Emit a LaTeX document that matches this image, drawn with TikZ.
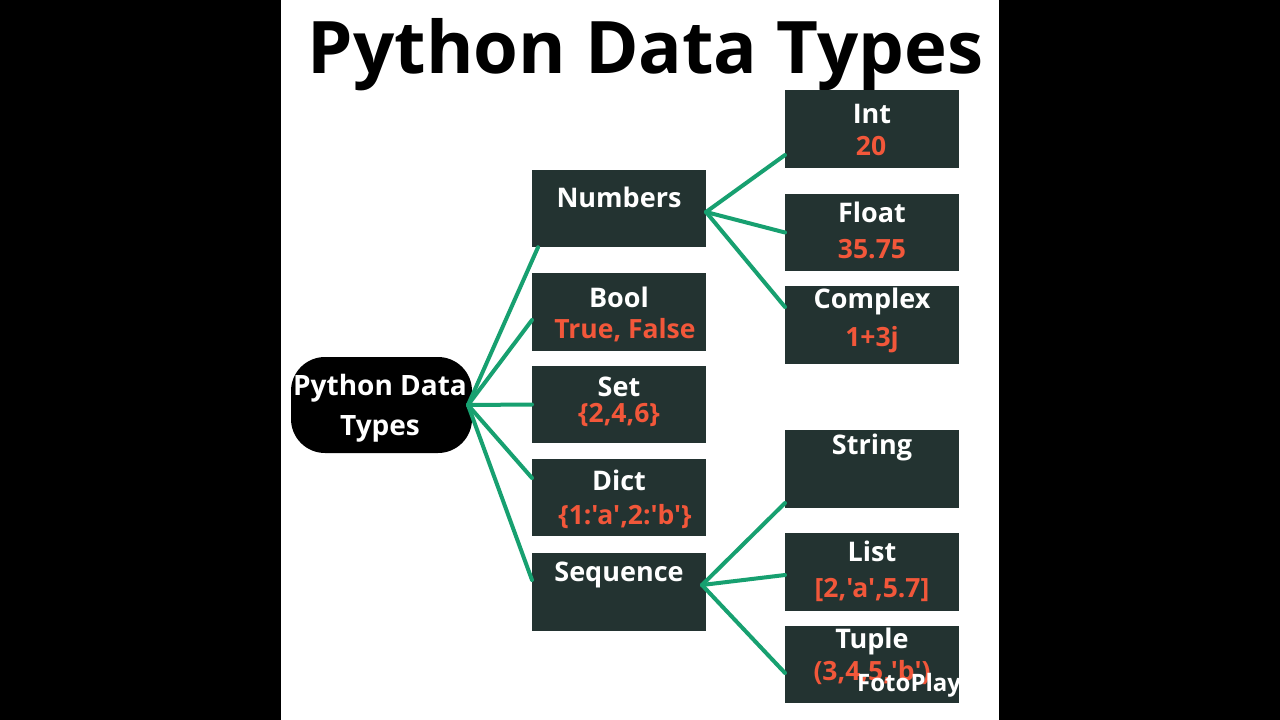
\documentclass[tikz,border=0pt]{standalone}
\usepackage{fontspec}
\setmainfont{Open Sans}[Ligatures=TeXOff]
\usetikzlibrary{calc}
\definecolor{boxc}{HTML}{233331}
\definecolor{valc}{HTML}{F2573A}
\definecolor{linec}{HTML}{17A070}
\tikzset{
  box/.style={fill=boxc, draw=none, inner sep=0pt, outer sep=0pt, minimum width=174pt, minimum height=77.5pt},
  ttl/.style={text=white, font=\bfseries\fontsize{27}{30}\selectfont, inner sep=0pt},
  val/.style={text=valc, font=\bfseries\fontsize{26.5}{30}\selectfont, inner sep=0pt},
  conn/.style={draw=linec, line width=4pt, line cap=round}
}
\begin{document}
\begin{tikzpicture}[x=1pt,y=-1pt]
\fill[black] (0,0) rectangle (1280,720);
\fill[white] (281,0) rectangle (999,720);
\useasboundingbox (0,0) rectangle (1280,720);

% title
\node[inner sep=0pt, anchor=center] (title) at (645.5,55) {\resizebox{675pt}{!}{\bfseries Python Data Types}};

% root
\node[fill=black, rounded corners=34pt, minimum width=181pt, minimum height=96pt, inner sep=0pt, outer sep=0pt] (root) at (381.5,405) {};
\node[text=white, font=\bfseries\fontsize{28}{40}\selectfont, align=center, inner sep=0pt] (roott) at (380,408) {Python Data\\Types};

% middle boxes
\node[box] (numbers) at (619,208.5) {};
\node[box] (bool) at (619,312) {};
\node[box] (set) at (619,404.5) {};
\node[box] (dict) at (619,497.5) {};
\node[box] (sequence) at (619,592) {};

% right boxes
\node[box] (int) at (872,129) {};
\node[box] (float) at (872,232.5) {};
\node[box] (complex) at (872,325) {};
\node[box] (string) at (872,469) {};
\node[box] (list) at (872,572) {};
\node[box] (tuple) at (872,664.5) {};

% texts
\node[ttl] (numbers-t) at (619,197) {Numbers};
\node[ttl] (bool-t) at (619,297) {Bool};
\node[val] (bool-v) at (625,330) {True, False};
\node[ttl] (set-t) at (619,387) {Set};
\node[val] (set-v) at (619,415) {\{2,4,6\}};
\node[ttl] (dict-t) at (619,480) {Dict};
\node[val] (dict-v) at (625,517) {\{1:'a',2:'b'\}};
\node[ttl] (sequence-t) at (619,575) {Sequence};

\node[ttl] (int-t) at (872,114) {Int};
\node[val] (int-v) at (871,146) {20};
\node[ttl] (float-t) at (872,212) {Float};
\node[val] (float-v) at (872,249) {35.75};
\node[ttl] (complex-t) at (872,301) {Complex};
\node[val] (complex-v) at (872,340) {1+3j};
\node[ttl] (string-t) at (872,447) {String};
\node[ttl] (list-t) at (872,551) {List};
\node[val] (list-v) at (872,590) {[2,'a',5.7]};
\node[ttl] (tuple-t) at (872,641) {Tuple};
\node[val] (tuple-v) at (872,673) {(3,4,5,'b')};
\begin{scope}
\clip (785,600) rectangle (959,720);
\node[text=white, font=\bfseries\fontsize{24}{28}\selectfont, inner sep=0pt, anchor=west] (foto) at (857,685) {FotoPlay};
\end{scope}

% hubs
\coordinate (rhub) at ([xshift=-4pt]root.east);
\coordinate (nhub) at ([yshift=-3.5pt]numbers.east);
\coordinate (shub) at ([xshift=-4pt,yshift=7pt]sequence.east);

% connectors
\draw[conn] (rhub) -- ([xshift=6pt]numbers.south west);
\draw[conn] (rhub) -- ([yshift=-8pt]bool.west);
\draw[conn] (rhub) -- (set.west);
\draw[conn] (rhub) -- ([yshift=19.5pt]dict.west);
\draw[conn] (rhub) -- ([yshift=12pt]sequence.west);
\draw[conn] (nhub) -- ([yshift=-26pt]int.west);
\draw[conn] (nhub) -- (float.west);
\draw[conn] (nhub) -- ([yshift=18pt]complex.west);
\draw[conn] (shub) -- ([yshift=-34pt]string.west);
\draw[conn] (shub) -- ([yshift=-3pt]list.west);
\draw[conn] (shub) -- ([yshift=-8.5pt]tuple.west);
\end{tikzpicture}
\end{document}
